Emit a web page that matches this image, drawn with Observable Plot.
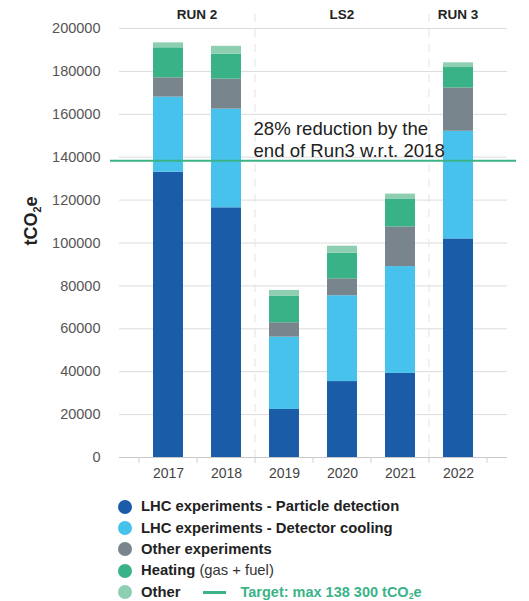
<!DOCTYPE html>
<html><head><meta charset="utf-8">
<script src="https://cdn.jsdelivr.net/npm/d3@7"></script>
<script src="https://cdn.jsdelivr.net/npm/@observablehq/plot@0.6"></script>
<style>
body{margin:0;background:#fff;font-family:"Liberation Sans",Arial,Helvetica,sans-serif;}
#wrap{position:relative;width:529px;height:601px;overflow:hidden;}
#ylabel{position:absolute;left:31px;top:221px;transform:translate(-50%,-50%) rotate(-90deg);font-weight:bold;font-size:18px;color:#222;white-space:nowrap;line-height:1;}
.sub{font-size:0.6em;position:relative;top:0.35em;}
.ttext .sub{top:0.2em;}
#legend{position:absolute;left:118px;top:496px;font-size:14.8px;color:#222;}
.row{display:flex;align-items:center;height:21.4px;white-space:nowrap;line-height:1;}
.dot{width:14px;height:14px;border-radius:50%;margin-right:9px;flex:none;}
.lbl{font-weight:bold;}
.note{font-weight:normal;color:#333;}
.tline{width:23px;height:3px;margin-left:23px;margin-right:14px;flex:none;}
.ttext{font-weight:bold;font-size:14.5px;}
</style></head>
<body><div id="wrap"><div id="chart"></div><div id="ylabel">tCO<span class="sub">2</span>e</div><div id="legend"></div></div>
<script>
const years = ["2017","2018","2019","2020","2021","2022"];
const categories = ["LHC experiments - Particle detection","LHC experiments - Detector cooling","Other experiments","Heating","Other"];
const categoryNotes = ["","","","(gas + fuel)",""];
const colors = ["#1b5ca9","#47c2ed","#78858c","#38b286","#8fcfb1"];
const particleDetection = [133000,116400,22400,35400,39200,101900];
const detectorCooling   = [35000,46000,33700,40000,49800,50200];
const otherExperiments  = [9000,14000,6700,7900,18500,20200];
const heating           = [14000,11600,12300,12000,12800,9500];
const other             = [2300,3700,2800,3200,2500,2200];
const target = 138300;
const targetColor = "#3bb386";
const targetLegend = "Target: max 138 300 tCO";
const annotation = "28% reduction by the\nend of Run3 w.r.t. 2018";
const periods = [
  {label:"RUN 2", from:"2017", to:"2018"},
  {label:"LS2", from:"2019", to:"2021"},
  {label:"RUN 3", from:"2022", to:"2022"}
];
const separators = ["2019","2022"];
const yTicks = [0,20000,40000,60000,80000,100000,120000,140000,160000,180000,200000];

const series = [particleDetection, detectorCooling, otherExperiments, heating, other];
const data = [];
years.forEach((yr, i) => series.forEach((s, k) => data.push({year: yr, category: categories[k], value: s[i]})));

function decorations(index, scales, values, dims) {
  const x = scales.x, y = scales.y;
  const bw = typeof x.bandwidth === "function" ? x.bandwidth() : x.bandwidth;
  const step = x(years[1]) - x(years[0]);
  const gap = (step - bw) / 2;
  const left = v => x(v) - gap;
  const right = v => x(v) + bw + gap;
  const y0 = y(0);
  const g = d3.create("svg:g");
  const bounds = years.map(left).concat([right(years[years.length - 1])]);
  g.selectAll("line.tk").data(bounds).join("line")
    .attr("x1", d => d).attr("x2", d => d)
    .attr("y1", y0).attr("y2", y0 + 6)
    .attr("stroke", "#cfcfcf");
  g.selectAll("line.sep").data(separators).join("line")
    .attr("x1", d => left(d)).attr("x2", d => left(d))
    .attr("y1", dims.marginTop - 14).attr("y2", y0)
    .attr("stroke", "#e3e3e3").attr("stroke-dasharray", "8,7");
  g.selectAll("text").data(periods).join("text")
    .attr("x", d => (left(d.from) + right(d.to)) / 2)
    .attr("y", dims.marginTop - 14)
    .attr("dy", "0.35em")
    .attr("text-anchor", "middle")
    .attr("font-weight", "bold")
    .attr("font-size", 13.5)
    .attr("fill", "#222")
    .text(d => d.label);
  return g.node();
}

const chart = Plot.plot({
  width: 529,
  height: 490,
  marginTop: 28,
  marginBottom: 33,
  marginLeft: 119,
  marginRight: 22,
  style: {fontFamily: '"Liberation Sans", Arial, Helvetica, sans-serif', background: "#fff"},
  x: {domain: years, paddingInner: 0.49, paddingOuter: 0.245, insetLeft: 18, insetRight: 19, label: null},
  y: {domain: [0, 200000], label: null},
  color: {domain: categories, range: colors},
  marks: [
    Plot.ruleY(yTicks, {stroke: "#dcdcdc"}),
    Plot.ruleY([0], {stroke: "#c8c8c8"}),
    decorations,
    Plot.barY(data, {x: "year", y: "value", fill: "category"}),
    Plot.axisY(yTicks, {tickSize: 0, tickPadding: 19, tickFormat: d => String(d), fontSize: 14.5, fill: "#555", label: null}),
    Plot.axisX({tickSize: 0, tickPadding: 11, fontSize: 14, fill: "#444", label: null}),
    Plot.ruleY([target], {stroke: targetColor, strokeWidth: 2, insetLeft: -9, insetRight: -9}),
    Plot.text([{year: "2019", v: target, t: annotation}], {
      x: "year", y: "v", text: "t", textAnchor: "start", lineAnchor: "bottom",
      dx: -31, dy: -4, fontSize: 18.6, lineHeight: 1.2, fill: "#222"
    })
  ]
});
document.getElementById("chart").appendChild(chart);

const legend = document.getElementById("legend");
categories.forEach((c, k) => {
  const row = document.createElement("div");
  row.className = "row";
  row.innerHTML = `<span class="dot" style="background:${colors[k]}"></span><span class="lbl">${c}</span>` +
    (categoryNotes[k] ? `<span class="note">&nbsp;${categoryNotes[k]}</span>` : "");
  if (k === categories.length - 1) {
    row.innerHTML += `<span class="tline" style="background:${targetColor}"></span><span class="ttext" style="color:${targetColor}">${targetLegend}<span class="sub">2</span>e</span>`;
  }
  legend.appendChild(row);
});
</script>
</body></html>
